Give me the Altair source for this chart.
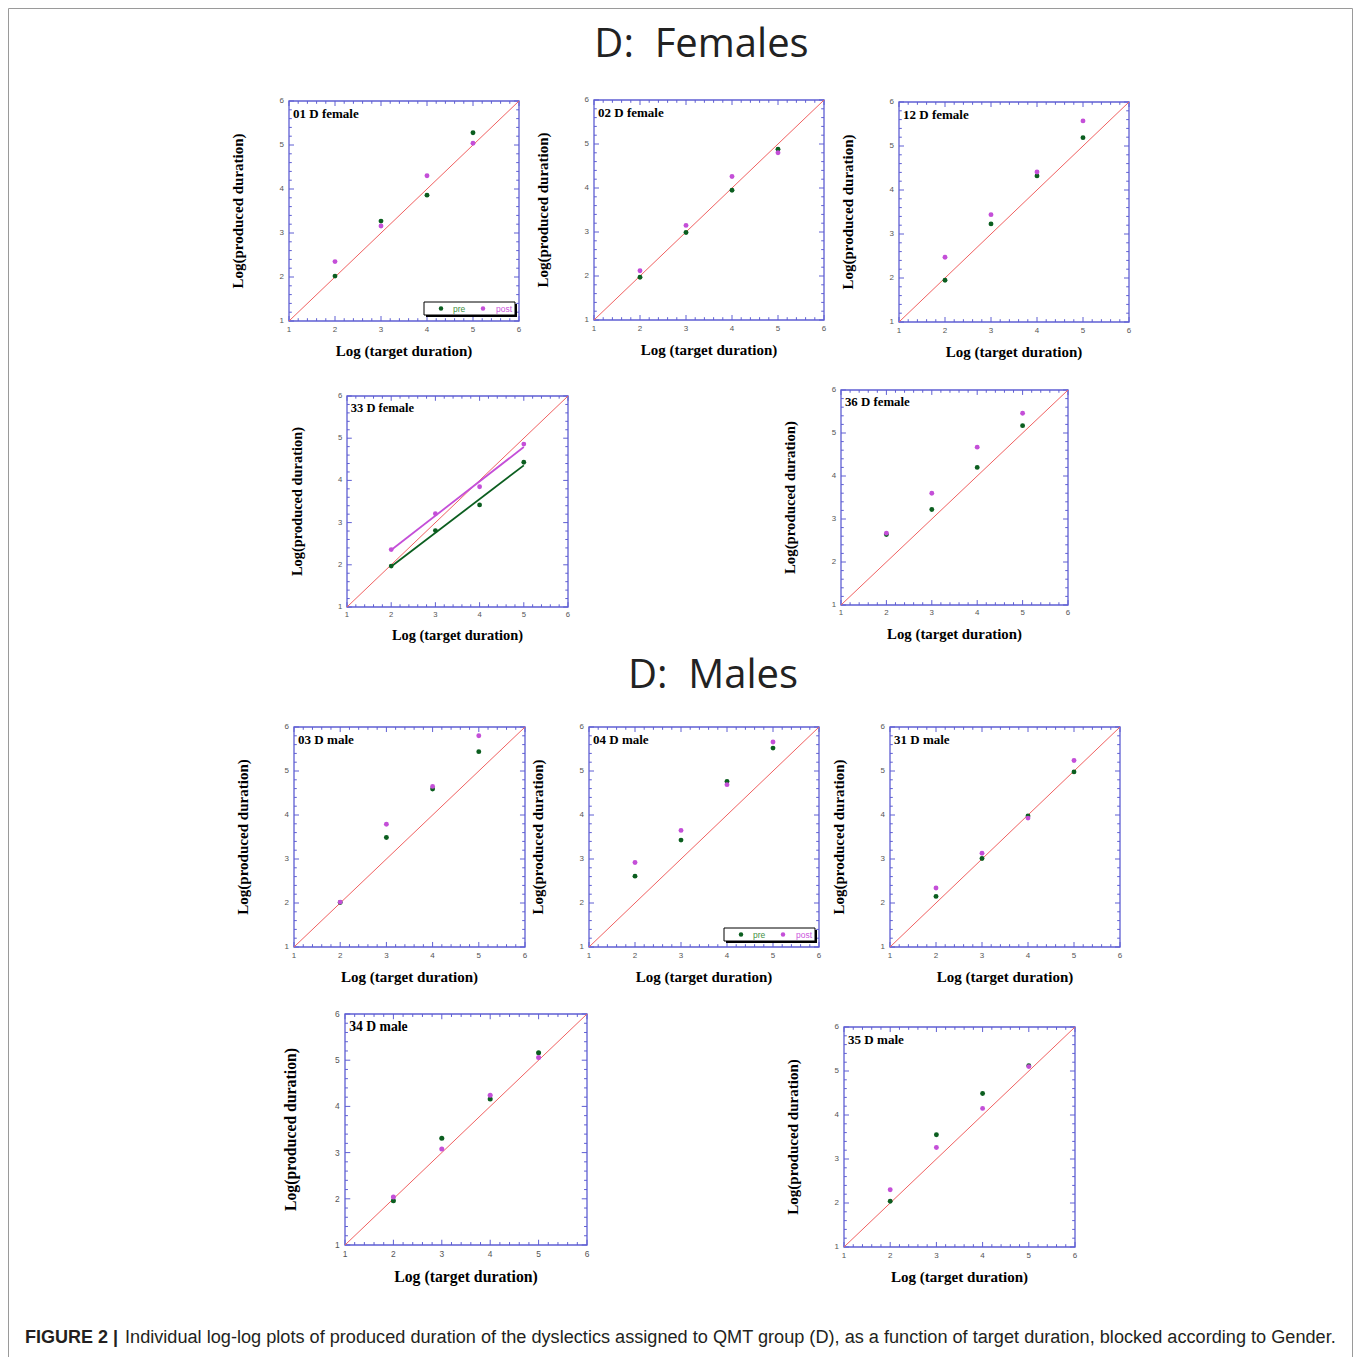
import altair as alt
import pandas as pd

# ---------------- data ----------------
targets = [2, 3, 4, 5]
series_names = ["pre", "post"]
axis_ticks = [1, 2, 3, 4, 5, 6]
tick_labels = ["1", "2", "3", "4", "5", "6"]
diagonal = [1, 6]

pre_01 = [2.02, 3.27, 3.86, 5.28]
post_01 = [2.35, 3.16, 4.30, 5.04]
pre_02 = [1.97, 2.99, 3.95, 4.88]
post_02 = [2.12, 3.15, 4.26, 4.80]
pre_12 = [1.95, 3.23, 4.32, 5.19]
post_12 = [2.47, 3.44, 4.41, 5.57]
pre_33 = [1.97, 2.81, 3.42, 4.43]
post_33 = [2.36, 3.21, 3.85, 4.86]
pre_36 = [2.64, 3.22, 4.20, 5.17]
post_36 = [2.67, 3.60, 4.67, 5.46]
pre_03 = [2.01, 3.49, 4.59, 5.44]
post_03 = [2.02, 3.79, 4.65, 5.80]
pre_04 = [2.61, 3.43, 4.76, 5.52]
post_04 = [2.92, 3.65, 4.69, 5.66]
pre_31 = [2.15, 3.01, 3.98, 4.98]
post_31 = [2.34, 3.13, 3.93, 5.24]
pre_34 = [1.96, 3.31, 4.16, 5.16]
post_34 = [2.04, 3.08, 4.24, 5.06]
pre_35 = [2.04, 3.55, 4.49, 5.12]
post_35 = [2.30, 3.26, 4.15, 5.10]

heading_females = "D:\u00a0\u00a0Females"
heading_males = "D:\u00a0\u00a0Males"
x_title = "Log (target duration)"
y_title = "Log(produced duration)"
caption_bold = "FIGURE 2 |"
caption_text = ("Individual log-log plots of produced duration of the dyslectics assigned to "
                "QMT group (D), as a function of target duration, blocked according to Gender.")

# ---------------- style / layout ----------------
BLUE = "#5f5fd3"
GREEN = "#0b5e1f"
MAGENTA = "#c44fd8"
RED = "#f06060"
PRE_TXT = "#3f8f3f"
POST_TXT = "#cc55dd"
LABEL_GRAY = "#555555"

ORIGIN_X, ORIGIN_Y = 8, 8
VIEW_W, VIEW_H = 1344, 1349

# page-pixel plot boxes: left, top, width, height
panels = [
    ("01 D female", pre_01, post_01, (289, 101, 230, 220), True, False),
    ("02 D female", pre_02, post_02, (594, 100, 230, 220), False, False),
    ("12 D female", pre_12, post_12, (899, 102, 230, 220), False, False),
    ("33 D female", pre_33, post_33, (347, 396, 221, 211), False, True),
    ("36 D female", pre_36, post_36, (841, 390, 227, 215), False, False),
    ("03 D male", pre_03, post_03, (294, 727, 231, 220), False, False),
    ("04 D male", pre_04, post_04, (589, 727, 230, 220), True, False),
    ("31 D male", pre_31, post_31, (890, 727, 230, 220), False, False),
    ("34 D male", pre_34, post_34, (345, 1014, 242, 231), False, False),
    ("35 D male", pre_35, post_35, (844, 1027, 231, 220), False, False),
]

minor_ticks = [a + j / 5 for a in axis_ticks[:-1] for j in range(1, 5)]


def make_panel(name, pre, post, box, show_legend, show_fit):
    left, top, w, h = box
    k = w / 230.0
    x0 = left - ORIGIN_X
    y0 = top - ORIGIN_Y
    lo, hi = axis_ticks[0], axis_ticks[-1]
    mid = (lo + hi) / 2
    sx = alt.Scale(domain=[lo, hi], range=[x0, x0 + w], nice=False, zero=False)
    sy = alt.Scale(domain=[lo, hi], range=[y0 + h, y0], nice=False, zero=False)

    def X(f):
        return alt.X(f, scale=sx, axis=None)

    def Y(f):
        return alt.Y(f, scale=sy, axis=None)

    color = alt.Color("series:N", scale=alt.Scale(domain=series_names, range=[GREEN, MAGENTA]), legend=None)
    pts = pd.DataFrame({
        "t": targets + targets,
        "p": list(pre) + list(post),
        "series": ["pre"] * len(pre) + ["post"] * len(post),
    })
    frame_df = pd.DataFrame({"lo": [lo], "hi": [hi]})
    major_df = pd.DataFrame({"v": axis_ticks, "lab": tick_labels, "lo": lo, "hi": hi})
    minor_df = pd.DataFrame({"v": minor_ticks, "lo": lo, "hi": hi})

    layers = []
    layers.append(
        alt.Chart(frame_df).mark_rect(fill="white", fillOpacity=0, stroke=BLUE, strokeWidth=1.3)
        .encode(x=X("lo:Q"), x2="hi:Q", y=Y("lo:Q"), y2="hi:Q")
    )
    for df, L in ((major_df, 5 * k), (minor_df, 2.8 * k)):
        layers.append(alt.Chart(df).mark_rule(color=BLUE, strokeWidth=1, y2Offset=-L)
                      .encode(x=X("v:Q"), y=Y("lo:Q"), y2="lo:Q"))
        layers.append(alt.Chart(df).mark_rule(color=BLUE, strokeWidth=1, y2Offset=L)
                      .encode(x=X("v:Q"), y=Y("hi:Q"), y2="hi:Q"))
        layers.append(alt.Chart(df).mark_rule(color=BLUE, strokeWidth=1, x2Offset=L)
                      .encode(y=Y("v:Q"), x=X("lo:Q"), x2="lo:Q"))
        layers.append(alt.Chart(df).mark_rule(color=BLUE, strokeWidth=1, x2Offset=-L)
                      .encode(y=Y("v:Q"), x=X("hi:Q"), x2="hi:Q"))

    # tick labels
    layers.append(alt.Chart(major_df).mark_text(align="center", baseline="middle", dy=8.5 * k,
                                                font="Liberation Sans", fontSize=8 * k, color=LABEL_GRAY)
                  .encode(x=X("v:Q"), y=Y("lo:Q"), text="lab:N"))
    layers.append(alt.Chart(major_df).mark_text(align="right", baseline="middle", dx=-5 * k,
                                                font="Liberation Sans", fontSize=8 * k, color=LABEL_GRAY)
                  .encode(x=X("lo:Q"), y=Y("v:Q"), text="lab:N"))
    # axis titles (rotated text: dy shifts horizontally on screen)
    titles_df = pd.DataFrame({"lo": [lo], "mid": [mid], "xt": [x_title], "yt": [y_title]})
    layers.append(alt.Chart(titles_df).mark_text(align="center", baseline="middle", dy=30 * k,
                                                 font="Liberation Serif", fontWeight="bold",
                                                 fontSize=15 * k, color="black")
                  .encode(x=X("mid:Q"), y=Y("lo:Q"), text="xt:N"))
    layers.append(alt.Chart(titles_df).mark_text(align="center", baseline="middle", angle=270,
                                                 dy=-51 * k, font="Liberation Serif", fontWeight="bold",
                                                 fontSize=15 * k, color="black")
                  .encode(x=X("lo:Q"), y=Y("mid:Q"), text="yt:N"))

    diag_df = pd.DataFrame({"d": diagonal})
    layers.append(alt.Chart(diag_df).mark_line(color=RED, strokeWidth=1)
                  .encode(x=X("d:Q"), y=Y("d:Q")))

    if show_fit:
        layers.append(
            alt.Chart(pts).transform_regression("t", "p", groupby=["series"])
            .mark_line(strokeWidth=1.8)
            .encode(x=X("t:Q"), y=Y("p:Q"), color=color)
        )

    layers.append(
        alt.Chart(pts).mark_circle(size=24 * k, opacity=1)
        .encode(x=X("t:Q"), y=Y("p:Q"), color=color)
    )

    title_df = pd.DataFrame({"x": [lo], "y": [hi], "label": [name]})
    layers.append(
        alt.Chart(title_df).mark_text(align="left", baseline="alphabetic", dx=4 * k, dy=16.5 * k,
                                      font="Liberation Serif", fontWeight="bold", fontSize=13 * k,
                                      color="black")
        .encode(x=X("x:Q"), y=Y("y:Q"), text="label:N")
    )

    if show_legend:
        anchor = pd.DataFrame({"x": [hi], "y": [lo]})
        layers.append(alt.Chart(anchor).mark_rect(color="black", xOffset=-93, x2Offset=-2,
                                                  yOffset=-17, y2Offset=-4)
                      .encode(x=X("x:Q"), x2="x:Q", y=Y("y:Q"), y2="y:Q"))
        layers.append(alt.Chart(anchor).mark_rect(fill="white", stroke="black", strokeWidth=1,
                                                  xOffset=-95, x2Offset=-4, yOffset=-19, y2Offset=-6)
                      .encode(x=X("x:Q"), x2="x:Q", y=Y("y:Q"), y2="y:Q"))
        for s, dot_dx, txt_dx, col, tcol in zip(series_names, [-78, -36], [-66, -23],
                                                 [GREEN, MAGENTA], [PRE_TXT, POST_TXT]):
            ent = pd.DataFrame({"x": [hi], "y": [lo], "label": [s]})
            layers.append(alt.Chart(ent).mark_circle(size=20, color=col, opacity=1,
                                                     xOffset=dot_dx, yOffset=-12.5)
                          .encode(x=X("x:Q"), y=Y("y:Q")))
            layers.append(alt.Chart(ent).mark_text(align="left", baseline="middle", dx=txt_dx, dy=-12.5,
                                                   font="Liberation Sans", fontSize=8.5, color=tcol)
                          .encode(x=X("x:Q"), y=Y("y:Q"), text="label:N"))
    return alt.layer(*layers)


panel_layers = [make_panel(*p) for p in panels]


def text_layer(label, x, y, **kw):
    return alt.Chart(pd.DataFrame({"label": [label]})).mark_text(**kw).encode(
        x=alt.value(x), y=alt.value(y), text="label:N")


headings = [
    text_layer(heading_females, 701.5 - ORIGIN_X, 57 - ORIGIN_Y, font="Open Sans", fontSize=40,
               align="center", baseline="alphabetic", color="#222222"),
    text_layer(heading_males, 713 - ORIGIN_X, 688 - ORIGIN_Y, font="Open Sans", fontSize=40,
               align="center", baseline="alphabetic", color="#222222"),
    text_layer(caption_bold, 25 - ORIGIN_X, 1343 - ORIGIN_Y, font="Liberation Sans", fontSize=18,
               fontWeight="bold", align="left", baseline="alphabetic", color="#231f20"),
    text_layer(caption_text, 125 - ORIGIN_X, 1343 - ORIGIN_Y, font="Liberation Sans", fontSize=18.15,
               align="left", baseline="alphabetic", color="#231f20"),
]

chart = (
    alt.layer(*panel_layers, *headings)
    .resolve_scale(x="independent", y="independent")
    .properties(width=VIEW_W, height=VIEW_H,
                padding={"left": ORIGIN_X, "top": ORIGIN_Y, "right": 2, "bottom": 0},
                autosize=alt.AutoSizeParams(type="none"),
                background="white")
    .configure_view(stroke="#9a9a9a", strokeWidth=1)
)

chart.save("out.html", embed_options={"renderer": "svg", "actions": False})
